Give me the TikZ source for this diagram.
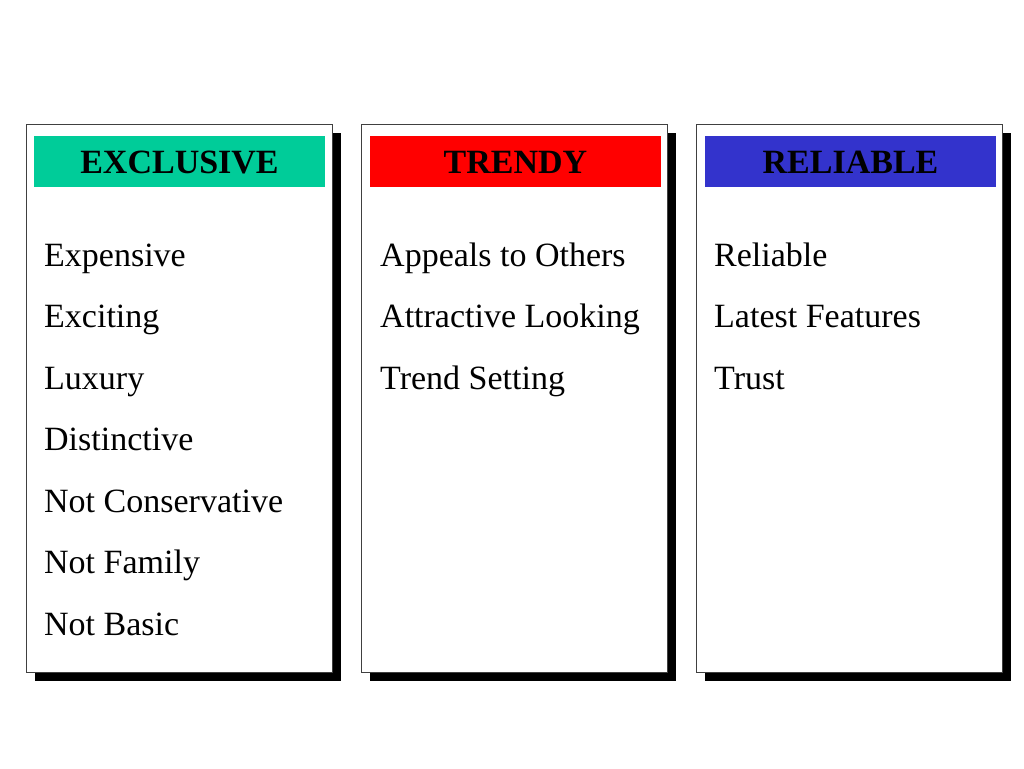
\documentclass[tikz,border=0pt]{standalone}
\usepackage{fontspec}
\setmainfont{Liberation Serif}
\usetikzlibrary{positioning,shadows}
\definecolor{exclgreen}{RGB}{0,204,153}
\definecolor{trendred}{RGB}{255,0,0}
\definecolor{relblue}{RGB}{51,51,204}
\begin{document}
\begin{tikzpicture}[x=1pt,y=-1pt]
            \tikzstyle{panel}=[draw=black!75,line width=0.8pt,fill=white,minimum width=306pt,minimum height=548pt,inner sep=0pt,
                drop shadow={shadow xshift=9pt,shadow yshift=-9pt,opacity=1,fill=black}]
            \tikzstyle{head}=[minimum width=291pt,minimum height=51pt,inner sep=0pt,text height=23pt,text depth=0pt,
                font=\fontsize{34}{40}\selectfont\bfseries]
            \tikzstyle{item}=[anchor=base west,inner sep=0pt,font=\fontsize{34}{40}\selectfont]
            \useasboundingbox (0,0) rectangle (1024,768);
            % exclusive column
            \node[panel] (excl_box) at (179,398) {};
            \node[head,fill=exclgreen] (excl_head) at (179.5,161.5) {EXCLUSIVE};
            \node[item] (excl_1) at (44,266) {Expensive};
            \node[item] (excl_2) at (44,327.5) {Exciting};
            \node[item] (excl_3) at (44,389) {Luxury};
            \node[item] (excl_4) at (44,450.5) {Distinctive};
            \node[item] (excl_5) at (44,512) {Not Conservative};
            \node[item] (excl_6) at (44,573.5) {Not Family};
            \node[item] (excl_7) at (44,635) {Not Basic};
            % trendy column
            \node[panel] (trend_box) at (514,398) {};
            \node[head,fill=trendred] (trend_head) at (515.5,161.5) {TRENDY};
            \node[item] (trend_1) at (380,266) {Appeals to Others};
            \node[item] (trend_2) at (380,327.5) {Attractive Looking};
            \node[item] (trend_3) at (380,389) {Trend Setting};
            % reliable column
            \node[panel] (rel_box) at (849,398) {};
            \node[head,fill=relblue] (rel_head) at (850.5,161.5) {RELIABLE};
            \node[item] (rel_1) at (714,266) {Reliable};
            \node[item] (rel_2) at (714,327.5) {Latest Features};
            \node[item] (rel_3) at (714,389) {Trust};
\end{tikzpicture}
\end{document}
